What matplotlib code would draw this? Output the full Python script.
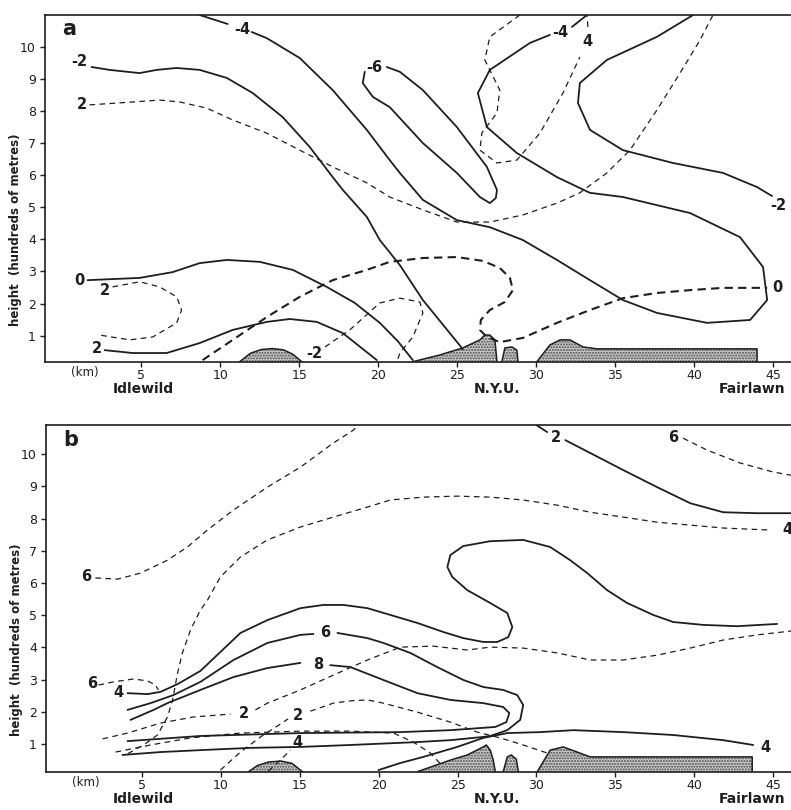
import matplotlib
matplotlib.use("Agg")
import matplotlib.pyplot as plt

plt.rcParams['font.family'] = ['DejaVu Sans']
plt.rcParams['hatch.linewidth'] = 1.0

# ---- axes scales (km, hundreds of metres) ----
x_ticks = [5, 10, 15, 20, 25, 30, 35, 40, 45]
y_ticks = [1, 2, 3, 4, 5, 6, 7, 8, 9, 10]
stations = [(5.1, "Idlewild"), (27.5, "N.Y.U."), (43.7, "Fairlawn")]

# ---- panel a: solid isolines ----
a_minus4_top = [(8.69, 10.99), (10.47, 10.71)]
a_minus4 = [(11.99, 10.46), (12.94, 10.27), (15.03, 9.65), (17.12, 8.65), (19.28, 7.41),
            (20.73, 6.47), (21.37, 6.07), (22.83, 5.23), (24.98, 4.60), (27.07, 4.38),
            (29.16, 3.98), (31.32, 3.36), (33.41, 2.73), (35.50, 2.11), (37.65, 1.71),
            (40.82, 1.40), (43.55, 1.49), (44.63, 2.11), (44.37, 3.14), (42.91, 4.07),
            (39.75, 4.82), (35.50, 5.32), (33.41, 5.45), (31.32, 5.94), (28.78, 6.69),
            (26.88, 7.50), (26.31, 8.56), (27.07, 9.28), (29.61, 10.12), (30.87, 10.37)]
a_minus4_end = [(32.27, 10.62), (33.22, 10.99)]
a_minus2_left = [(1.85, 9.37), (2.99, 9.28), (4.89, 9.18), (5.97, 9.28), (7.24, 9.34),
                 (8.69, 9.28), (10.41, 9.03), (12.05, 8.56), (13.95, 7.81), (15.66, 6.88),
                 (17.12, 5.94), (17.76, 5.54), (19.28, 4.70), (20.10, 3.98), (21.37, 3.20),
                 (22.83, 2.11), (25.36, 0.58)]
a_minus6 = [(19.15, 9.22), (19.02, 8.87), (19.66, 8.44), (20.73, 8.12), (22.83, 7.00),
            (24.98, 6.07), (26.44, 5.32), (27.07, 5.13), (27.45, 5.29), (27.52, 5.54),
            (26.88, 6.26), (24.98, 7.50), (22.83, 8.65), (21.37, 9.22), (20.54, 9.37)]
a_minus2_right = [(39.94, 10.99), (37.65, 10.31), (34.48, 9.59), (32.77, 8.87), (32.65, 8.25),
                  (33.41, 7.41), (35.50, 6.78), (38.67, 6.38), (41.84, 6.07), (43.99, 5.63),
                  (44.94, 5.35)]
a_zero = [(1.60, 2.73), (4.89, 2.80), (6.98, 2.98), (8.69, 3.26), (10.41, 3.36),
          (12.50, 3.30), (14.59, 3.05), (16.74, 2.52), (18.52, 2.02), (20.10, 1.40),
          (21.24, 0.83), (22.19, 0.24)]
a_two = [(2.68, 0.55), (4.45, 0.46), (6.60, 0.46), (8.69, 0.77), (10.79, 1.18),
         (12.94, 1.43), (14.40, 1.52), (16.11, 1.43), (17.76, 1.08), (19.91, 0.24)]

# ---- panel a: dashed isolines ----
a_d_two_upper = [(1.72, 8.19), (4.45, 8.28), (6.16, 8.34), (7.43, 8.28), (9.14, 8.09),
                 (10.79, 7.72), (12.94, 7.31), (15.03, 6.78), (17.12, 6.26), (19.28, 5.76),
                 (20.73, 5.32), (22.83, 4.92), (24.98, 4.54), (27.07, 4.54), (29.16, 4.76),
                 (31.32, 5.13), (32.77, 5.45), (34.48, 6.07), (35.94, 6.78), (37.65, 8.03),
                 (39.11, 9.18), (40.38, 10.21), (41.20, 10.99)]
a_d_four = [(28.97, 10.99), (27.07, 10.31), (26.75, 9.59), (27.70, 8.65), (27.52, 7.94),
            (26.56, 7.31), (26.44, 6.78), (27.52, 6.38), (28.78, 6.47), (30.24, 7.31),
            (31.70, 8.56), (32.77, 9.68)]
a_d_four_end = [(33.28, 10.62), (33.22, 10.99)]
a_d_zero = [(8.88, 0.24), (10.79, 0.87), (12.94, 1.58), (15.03, 2.21), (17.12, 2.73),
            (19.28, 3.05), (20.73, 3.30), (22.83, 3.42), (24.98, 3.45), (26.63, 3.33),
            (27.70, 3.11), (28.34, 2.80), (28.53, 2.42), (28.02, 2.05), (27.07, 1.80),
            (26.50, 1.49), (26.44, 1.18), (26.88, 0.96), (27.70, 0.80), (29.16, 0.93),
            (31.32, 1.40), (33.41, 1.80), (35.50, 2.17), (37.65, 2.33), (39.75, 2.42),
            (41.84, 2.49), (44.63, 2.49)]
a_d_two_loop = [(3.18, 2.52), (4.89, 2.68), (6.16, 2.52), (7.24, 2.21), (7.55, 1.80),
                (7.24, 1.40), (5.72, 0.96), (4.26, 0.87), (2.36, 1.02)]
a_d_minus2 = [(16.63, 0.65), (18.20, 1.18), (20.10, 2.02), (21.37, 2.17), (22.64, 2.05),
              (22.83, 1.71), (22.19, 0.96), (21.37, 0.46), (21.18, 0.18)]

a_labels = [(11.42, 10.55, "-4"), (1.09, 9.53, "-2"), (1.22, 8.19, "2"), (19.78, 9.37, "-6"),
            (31.51, 10.46, "-4"), (33.22, 10.15, "4"), (45.32, 5.07, "-2"), (45.26, 2.49, "0"),
            (1.09, 2.73, "0"), (2.67, 2.42, "2"), (2.17, 0.59, "2"), (15.98, 0.46, "-2")]

# ---- panel a: terrain ----
a_hills = [
    [(11.23, 0.19), (11.9, 0.45), (12.6, 0.57), (13.3, 0.60), (14.0, 0.56), (14.6, 0.42), (15.16, 0.19)],
    [(22.19, 0.19), (23.9, 0.40), (25.36, 0.62), (26.44, 0.87), (26.75, 1.02), (27.07, 1.02),
     (27.39, 0.87), (27.52, 0.19)],
    [(27.83, 0.19), (28.02, 0.62), (28.47, 0.65), (28.78, 0.55), (28.85, 0.19)],
    [(30.05, 0.19), (30.87, 0.71), (31.51, 0.87), (32.14, 0.87), (32.97, 0.65), (33.85, 0.59),
     (43.99, 0.59), (43.99, 0.19)],
]

# ---- panel b: solid isolines ----
b_four_outer = [(4.07, 2.58), (5.34, 2.55), (6.16, 2.62), (7.24, 2.86), (8.69, 3.27),
                (9.96, 3.86), (11.23, 4.45), (12.94, 4.85), (15.03, 5.22), (16.49, 5.32),
                (17.76, 5.32), (19.28, 5.22), (20.73, 5.01), (22.45, 4.76), (24.09, 4.48),
                (25.36, 4.29), (26.63, 4.17), (27.52, 4.17), (28.21, 4.32), (28.47, 4.63),
                (28.15, 5.07), (27.07, 5.38), (25.61, 5.78), (24.66, 6.19), (24.35, 6.50),
                (24.54, 6.87), (25.36, 7.15), (27.07, 7.30), (29.16, 7.34), (30.87, 7.12),
                (32.14, 6.71), (33.22, 6.31), (34.48, 5.78), (35.75, 5.38), (37.40, 5.01),
                (38.67, 4.79), (40.57, 4.70), (42.72, 4.66), (45.26, 4.73)]
b_six_left = [(4.07, 2.06), (5.53, 2.27), (6.98, 2.52), (8.69, 2.93), (10.79, 3.61),
              (12.94, 4.14), (15.03, 4.39), (15.86, 4.42)]
b_six = [(17.38, 4.45), (19.28, 4.29), (20.29, 4.14), (22.00, 3.83), (23.71, 3.39),
         (25.36, 2.99), (26.63, 2.77), (27.89, 2.68), (28.78, 2.52), (29.16, 2.21),
         (28.97, 1.75), (28.15, 1.43), (27.07, 1.25), (26.63, 1.22), (24.54, 1.12),
         (22.45, 1.06), (18.20, 0.97), (15.03, 0.91), (11.86, 0.88), (8.69, 0.81),
         (6.16, 0.75), (3.75, 0.66)]
b_eight_left = [(4.26, 1.75), (5.72, 2.06), (6.60, 2.27), (8.69, 2.68), (10.79, 3.08),
                (12.94, 3.36), (15.03, 3.52)]
b_eight = [(16.92, 3.45), (18.20, 3.39), (20.29, 2.99), (22.45, 2.58), (24.54, 2.37),
           (26.63, 2.27), (27.89, 2.15), (28.28, 1.96), (28.09, 1.68), (27.39, 1.53),
           (24.54, 1.43), (21.37, 1.37), (15.03, 1.34), (8.69, 1.25), (4.07, 1.09)]
b_four_long = [(19.98, 0.19), (21.37, 0.41), (22.83, 0.60), (24.98, 0.91), (26.63, 1.19),
               (28.15, 1.34), (30.24, 1.37), (32.33, 1.43), (35.50, 1.37), (38.67, 1.28),
               (41.84, 1.12), (43.74, 0.97)]
b_two_top_start = [(29.80, 10.97), (30.68, 10.69)]
b_two_top = [(31.83, 10.44), (33.41, 10.04), (35.50, 9.51), (37.65, 8.98), (39.75, 8.48),
             (41.84, 8.20), (43.99, 8.17), (46.14, 8.17)]

# ---- panel b: dashed isolines ----
b_d_six_top = [(39.30, 10.50), (40.82, 10.13), (42.91, 9.73), (45.01, 9.45), (46.14, 9.35)]
b_d_six_upper = [(2.04, 6.16), (3.43, 6.12), (4.89, 6.31), (6.60, 6.71), (7.87, 7.12),
                 (9.14, 7.65), (10.79, 8.27), (12.94, 8.98), (15.03, 9.60), (17.12, 10.35),
                 (18.39, 10.75), (18.71, 10.91)]
b_d_four = [(44.63, 7.65), (41.84, 7.71), (39.75, 7.80), (37.65, 7.89), (35.50, 8.05),
            (33.41, 8.20), (31.32, 8.42), (29.16, 8.58), (27.07, 8.67), (24.98, 8.70),
            (22.83, 8.67), (20.73, 8.58), (19.28, 8.36), (17.12, 8.05), (15.03, 7.74),
            (12.94, 7.34), (11.23, 6.81), (9.96, 6.19), (9.14, 5.47), (8.69, 5.16),
            (8.06, 4.54), (7.55, 3.83), (7.24, 3.20), (6.93, 2.37), (6.60, 1.84),
            (5.97, 1.28), (5.08, 0.97), (3.94, 0.66)]
b_d_six_small = [(2.23, 2.83), (3.18, 2.93), (4.45, 3.02), (5.34, 2.96), (5.84, 2.83), (6.03, 2.68)]
b_d_two_a_left = [(2.49, 1.16), (4.07, 1.34), (6.16, 1.65), (8.25, 1.84), (10.60, 1.93)]
b_d_two_a = [(12.18, 2.06), (12.94, 2.27), (15.03, 2.68), (17.12, 3.14), (19.28, 3.61),
             (21.37, 4.01), (23.46, 4.04), (25.61, 3.92), (27.07, 4.01), (29.16, 3.98),
             (31.32, 3.83), (33.41, 3.61), (35.50, 3.61), (37.65, 3.76), (39.75, 3.98),
             (41.84, 4.23), (43.99, 4.39), (46.14, 4.51)]
b_d_two_b_left = [(9.96, 0.19), (11.23, 0.75), (12.50, 1.22), (13.76, 1.62), (14.25, 1.78)]
b_d_two_b = [(15.66, 2.02), (17.12, 2.27), (18.20, 2.34), (19.28, 2.37), (20.29, 2.27),
             (22.45, 1.99), (24.54, 1.68), (26.25, 1.37), (27.70, 1.19), (29.16, 0.97),
             (30.68, 0.72)]
b_d_low = [(3.31, 0.75), (5.53, 0.97), (8.06, 1.19), (11.23, 1.34), (15.03, 1.40),
           (18.20, 1.40), (20.93, 1.34), (22.19, 1.06), (23.27, 0.72), (24.03, 0.32)]
b_d_short = [(13.0, 0.16), (13.76, 0.50), (14.40, 0.81)]

b_labels = [(1.47, 6.19, "6"), (31.26, 10.53, "2"), (38.67, 10.53, "6"), (45.9, 7.65, "4"),
            (16.62, 4.45, "6"), (16.17, 3.48, "8"), (1.85, 2.89, "6"), (3.50, 2.59, "4"),
            (11.42, 1.96, "2"), (14.90, 1.90, "2"), (14.84, 1.06, "4"), (44.50, 0.88, "4")]

b_hills = [
    [(11.74, 0.14), (12.3, 0.33), (13.0, 0.44), (13.8, 0.47), (14.5, 0.40), (15.16, 0.14)],
    [(22.45, 0.14), (24.54, 0.50), (25.61, 0.66), (26.63, 0.91), (26.82, 0.97), (27.07, 0.81),
     (27.26, 0.50), (27.39, 0.14)],
    [(27.89, 0.14), (28.15, 0.60), (28.40, 0.66), (28.72, 0.53), (28.85, 0.14)],
    [(30.05, 0.14), (30.87, 0.81), (31.70, 0.91), (32.58, 0.75), (33.41, 0.60), (34.24, 0.60),
     (43.68, 0.60), (43.68, 0.14)],
]

INK = "#1e1e1e"
SOLID = dict(color=INK, lw=1.3, solid_capstyle="round", solid_joinstyle="round")
DASH = dict(color=INK, lw=0.9, linestyle=(0, (4.5, 3.5)))
DASH_HEAVY = dict(color=INK, lw=1.5, linestyle=(0, (4, 2.5)))


def line(ax, pts, style):
    xs, ys = zip(*pts)
    ax.plot(xs, ys, **style)


def setup(ax, letter, ylim):
    ax.set_xlim(-1.1, 46.14)
    ax.set_ylim(*ylim)
    ax.spines["right"].set_visible(False)
    for s in ("left", "bottom", "top"):
        ax.spines[s].set_linewidth(1.2)
        ax.spines[s].set_color(INK)
    ax.set_xticks(x_ticks)
    ax.set_yticks(y_ticks)
    ax.tick_params(axis="both", labelsize=9, length=3.5, width=1, pad=3, colors=INK)
    ax.tick_params(axis="x", pad=2)
    ax.set_ylabel("height  (hundreds of metres)", fontsize=8.5, fontweight="bold", color=INK)
    ax.yaxis.set_label_coords(-0.031, 0.38)
    ax.text(0.0, 10.55 if letter == "a" else 10.45, letter, fontsize=15, fontweight="bold",
            color=INK, ha="left", va="center")
    xt = ax.get_xaxis_transform()
    ax.text(1.4, -0.012, "(km)", transform=xt, ha="center", va="top", fontsize=8.5, color=INK)
    for xs, name in stations:
        ax.text(xs, -0.058, name, transform=xt, ha="center", va="top", fontsize=10,
                fontweight="bold", color=INK)


def hills(ax, shapes):
    for pts in shapes:
        xs, ys = zip(*pts)
        ax.fill(xs, ys, facecolor="#c9c9c9", edgecolor="#4a4a4a", hatch="......", lw=0)
        ax.plot(xs, ys, color=INK, lw=1.1)


def labels(ax, items):
    for x, y, t in items:
        ax.text(x, y, t, ha="center", va="center", fontsize=10.5, fontweight="bold",
                color=INK, clip_on=False)


fig = plt.figure(figsize=(7.91, 8.10), dpi=100)
ax_a = fig.add_axes([45 / 791, 1 - 361.7 / 810, 1 - 45 / 791, (361.7 - 15) / 810])
ax_b = fig.add_axes([46 / 791, 1 - 771.7 / 810, 1 - 46 / 791, (771.7 - 425) / 810])

setup(ax_a, "a", (0.19, 10.99))
setup(ax_b, "b", (0.14, 10.91))

for pts in (a_minus4_top, a_minus4, a_minus4_end, a_minus2_left, a_minus6, a_minus2_right,
            a_zero, a_two):
    line(ax_a, pts, SOLID)
for pts in (a_d_two_upper, a_d_four, a_d_four_end, a_d_two_loop, a_d_minus2):
    line(ax_a, pts, DASH)
line(ax_a, a_d_zero, DASH_HEAVY)
hills(ax_a, a_hills)
labels(ax_a, a_labels)

for pts in (b_four_outer, b_six_left, b_six, b_eight_left, b_eight, b_four_long,
            b_two_top_start, b_two_top):
    line(ax_b, pts, SOLID)
for pts in (b_d_six_top, b_d_six_upper, b_d_four, b_d_six_small, b_d_two_a_left, b_d_two_a,
            b_d_two_b_left, b_d_two_b, b_d_low, b_d_short):
    line(ax_b, pts, DASH)
hills(ax_b, b_hills)
labels(ax_b, b_labels)

fig.savefig("out.png", dpi=100, facecolor="white")
